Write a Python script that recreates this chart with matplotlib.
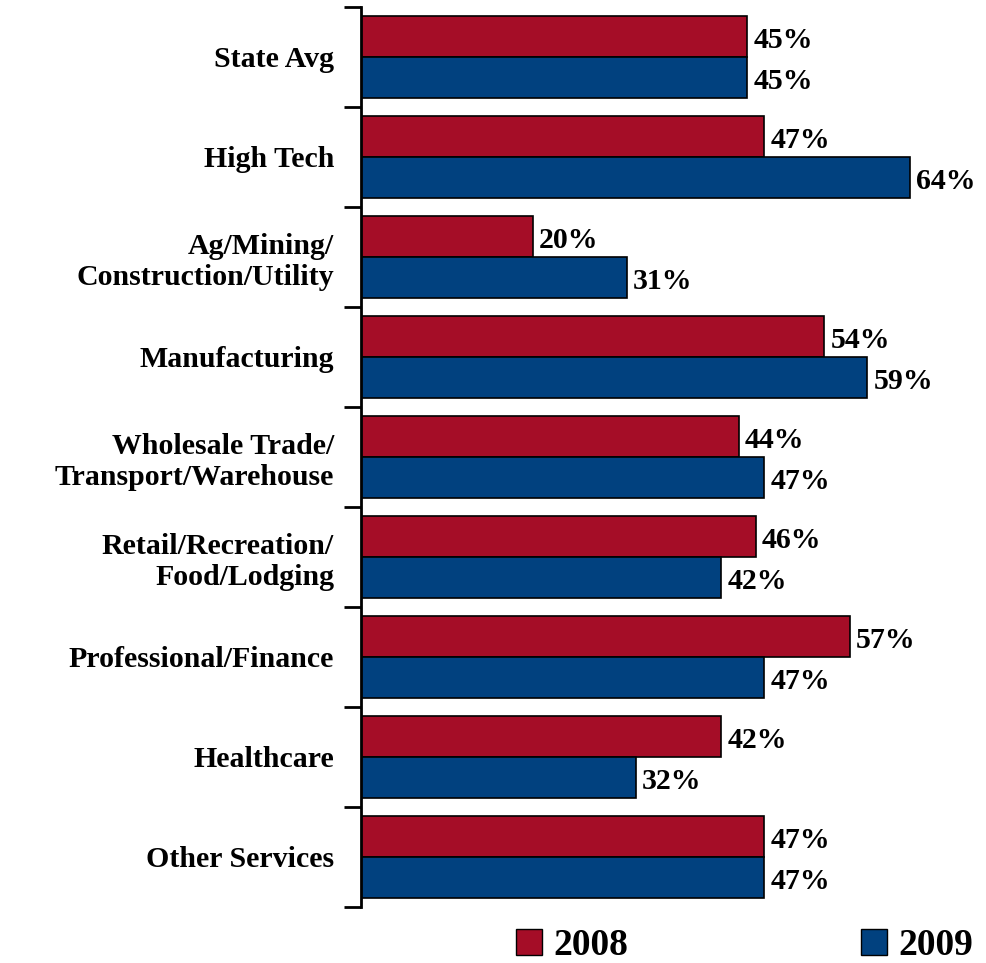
import matplotlib
matplotlib.use('Agg')
import matplotlib.pyplot as plt
import numpy as np
from matplotlib.patches import Patch

categories = ['State Avg', 'High Tech', 'Ag/Mining/\nConstruction/Utility', 'Manufacturing',
              'Wholesale Trade/\nTransport/Warehouse', 'Retail/Recreation/\nFood/Lodging',
              'Professional/Finance', 'Healthcare', 'Other Services']
vals_2008 = [45, 47, 20, 54, 44, 46, 57, 42, 47]
vals_2009 = [45, 64, 31, 59, 47, 42, 47, 32, 47]
series_names = ['2008', '2009']

red = '#A50D27'
blue = '#01417F'

plt.rcParams['font.family'] = ['Liberation Serif', 'DejaVu Serif']
plt.rcParams['font.weight'] = 'bold'

fig = plt.figure(figsize=(9.87, 9.63), dpi=100)
ax = fig.add_axes([0.3658, 0.0582, 0.626, 0.9346])

y = np.arange(len(categories))
h = 0.41
ax.barh(y - h / 2, vals_2008, height=h, color=red, edgecolor='black', linewidth=1.2)
ax.barh(y + h / 2, vals_2009, height=h, color=blue, edgecolor='black', linewidth=1.2)

# value labels, sitting a little below the bar centre like the original
for i in range(len(categories)):
    ax.text(vals_2008[i] + 0.7, y[i] - h / 2 + 0.04, f'{vals_2008[i]}%', va='center', ha='left',
            fontsize=21.5, fontweight='bold')
    ax.text(vals_2009[i] + 0.7, y[i] + h / 2 + 0.04, f'{vals_2009[i]}%', va='center', ha='left',
            fontsize=21.5, fontweight='bold')

ax.set_xlim(0, 72)
ax.set_ylim(len(categories) - 0.5, -0.5)

for s in ['top', 'right', 'bottom']:
    ax.spines[s].set_visible(False)
ax.spines['left'].set_linewidth(2)
ax.set_xticks([])

ax.set_yticks(y)
ax.set_yticklabels(categories, fontsize=21.5, fontweight='bold', linespacing=1.2)
ax.tick_params(axis='y', which='major', length=0, pad=19.5)
ax.set_yticks(np.arange(-0.5, len(categories), 1), minor=True)
ax.tick_params(axis='y', which='minor', length=12, width=2, direction='out')

handles = [Patch(facecolor=red, edgecolor='black'), Patch(facecolor=blue, edgecolor='black')]
fig.legend(handles, series_names, loc='lower right', bbox_to_anchor=(1.02, -0.035), ncol=2,
           frameon=False, handlelength=0.7, handleheight=0.7,
           handletextpad=0.3, columnspacing=6.2, prop={'weight': 'bold', 'size': 27})

fig.savefig('out.png', dpi=100)
